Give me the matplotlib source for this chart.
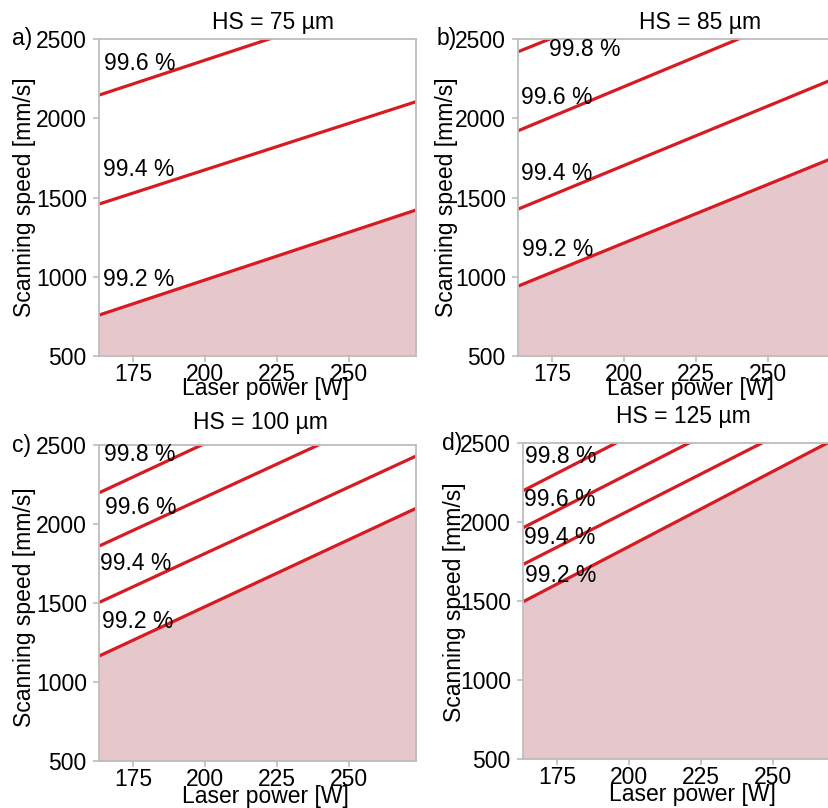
import numpy as np
import matplotlib
matplotlib.use("Agg")
import matplotlib.pyplot as plt

plt.rcParams['font.family'] = ['Liberation Sans', 'DejaVu Sans']

# laser power at the left/right end of each drawn line [W]
power_ends = [163.2, 273.2]

hatch_spacing = [75, 85, 100, 125]
panel_tags = ["a)", "b)", "c)", "d)"]

# density levels and scanning speed at the two power ends [mm/s]
levels_a = ["99.2 %", "99.4 %", "99.6 %"]
speed_a = [[759, 1422], [1460, 2106], [2148, 2808]]

levels_b = ["99.2 %", "99.4 %", "99.6 %", "99.8 %"]
speed_b = [[942, 1756], [1428, 2253], [1923, 2756], [2422, 3225]]

levels_c = ["99.2 %", "99.4 %", "99.6 %", "99.8 %"]
speed_c = [[1165, 2099], [1504, 2430], [1861, 2785], [2198, 3133]]

levels_d = ["99.2 %", "99.4 %", "99.6 %", "99.8 %"]
speed_d = [[1495, 2540], [1731, 2749], [1963, 2986], [2197, 3226]]

x_ticks = [175, 200, 225, 250]
y_ticks = [500, 1000, 1500, 2000, 2500]

W, H = 829, 808
fig = plt.figure(figsize=(W / 100, H / 100), dpi=100)

def px_axes(left, top, right, bottom):
    return fig.add_axes([left / W, 1 - bottom / H, (right - left) / W, (bottom - top) / H])

# axes boxes in pixels: left, top, right, bottom
boxes = [(99.3, 39.3, 416, 356), (518.3, 39.3, 835, 356),
         (99.3, 445, 416, 761), (523.3, 442.7, 840, 759)]
all_levels = [levels_a, levels_b, levels_c, levels_d]
all_speeds = [speed_a, speed_b, speed_c, speed_d]

# label positions (pixels) for each panel's level text
label_y = [[280, 170, 63], [250, 173, 97, 49], [622, 563, 507, 455], [575, 538, 500, 457]]
label_x = [[103, 103, 104], [522, 521, 521, 549], [102, 100, 105, 104], [525, 524, 524, 525]]
title_pos = [(273, 22), (700, 22), (260, 422), (683, 417)]
tag_pos = [(22, 39), (447, 39), (22, 445), (452, 443)]
ylab_pos = [(25, 197), (447, 197), (25, 607), (455, 602)]
xlab_pos = [(265, 389), (690, 389), (265, 797), (692, 795)]

red = '#d61c22'
fill_col = '#e5c7cc'
grey = '#bdbdbd'
fs = 16.5

for i in range(4):
    ax = px_axes(*boxes[i])
    p = np.array(power_ends)
    lows = np.array(all_speeds[i][0])
    ax.fill_between(p, 500, lows, color=fill_col, lw=0)
    for sp in all_speeds[i]:
        ax.plot(p, sp, color=red, lw=2.3, solid_capstyle='butt')
    ax.set_xlim(power_ends)
    ax.set_ylim(500, 2500)
    ax.set_xticks(x_ticks)
    ax.set_yticks(y_ticks)
    ax.tick_params(labelsize=fs, color=grey, length=4, width=1.2, pad=1.0)
    ax.tick_params(axis='y', pad=5)
    for s in ax.spines.values():
        s.set_color(grey)
        s.set_linewidth(1.3)
    for lab, lx, ly in zip(all_levels[i], label_x[i], label_y[i]):
        fig.text(lx / W, 1 - ly / H, lab, fontsize=fs, ha='left', va='center')
    hx, hy = title_pos[i]
    fig.text(hx / W, 1 - hy / H, f"HS = {hatch_spacing[i]} µm", fontsize=fs, ha='center', va='center')
    tx, ty = tag_pos[i]
    fig.text(tx / W, 1 - ty / H, panel_tags[i], fontsize=fs, ha='center', va='center')
    yx, yy = ylab_pos[i]
    fig.text(yx / W, 1 - yy / H, "Scanning speed [mm/s]", fontsize=fs, rotation=90, ha='center', va='center')
    xx, xy = xlab_pos[i]
    fig.text(xx / W, 1 - xy / H, "Laser power [W]", fontsize=fs, ha='center', va='center')

fig.savefig("out.png", dpi=100)
